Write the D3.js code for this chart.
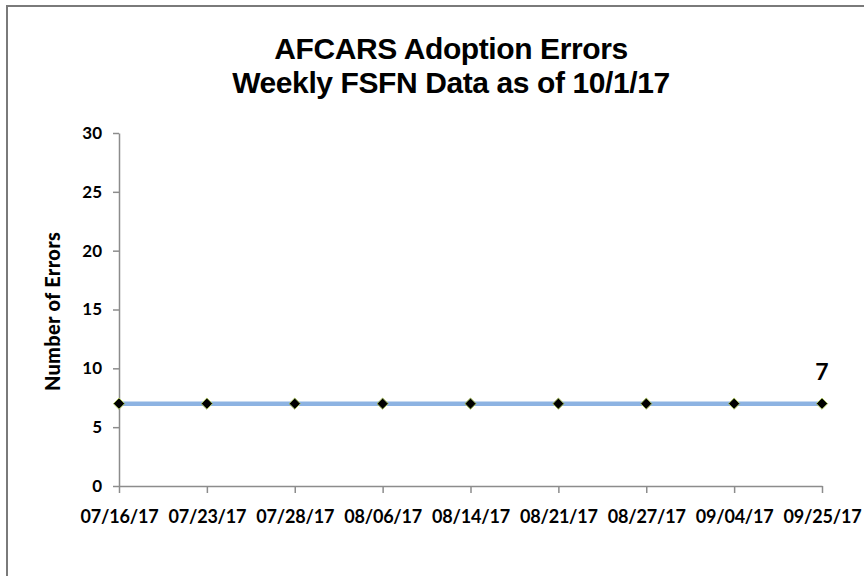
<!DOCTYPE html>
<html>
<head>
<meta charset="utf-8">
<script src="https://cdn.jsdelivr.net/npm/d3@7"></script>
<style>
  body { margin: 0; background: #fff; }
  svg { display: block; }
</style>
</head>
<body>
<div id="chart"></div>
<script>
// week labels along the x axis
var weeks = ["07/16/17", "07/23/17", "07/28/17", "08/06/17", "08/14/17", "08/21/17", "08/27/17", "09/04/17", "09/25/17"];
// number of errors each week
var errors = [7, 7, 7, 7, 7, 7, 7, 7, 7];
// y axis ticks
var yTicks = [0, 5, 10, 15, 20, 25, 30];

var titleLines = ["AFCARS Adoption Errors", "Weekly FSFN Data as of 10/1/17"];
var yTitle = "Number of Errors";

var width = 864, height = 576;
var margin = {top: 133, left: 119, right: 42, bottom: 90};

var svg = d3.select("#chart").append("svg")
    .attr("width", width)
    .attr("height", height);

// outer frame of the chart area (runs off the right and bottom edges)
svg.append("path")
    .attr("d", "M7,577 L7,6 L865,6")
    .attr("fill", "none")
    .attr("stroke", "#7a7a7a")
    .attr("stroke-width", 2);

// title
svg.append("g").selectAll("text")
    .data(titleLines)
    .enter().append("text")
    .attr("x", 451)
    .attr("y", function (d, i) { return 59 + i * 34; })
    .attr("text-anchor", "middle")
    .style("font-family", "'Liberation Sans', Arial, sans-serif")
    .style("font-weight", "bold")
    .style("font-size", "30px")
    .style("letter-spacing", "-0.4px")
    .attr("fill", "#000")
    .text(function (d) { return d; });

var x = d3.scalePoint()
    .domain(weeks)
    .range([margin.left, width - margin.right]);

var y = d3.scaleLinear()
    .domain([0, 30])
    .range([486, margin.top]);

var tickFont = "Lato, 'Open Sans', sans-serif";

// y axis
var gy = svg.append("g")
    .attr("transform", "translate(" + margin.left + ",0)")
    .call(d3.axisLeft(y).tickValues(yTicks).tickSizeInner(6).tickSizeOuter(0).tickPadding(11));
gy.select(".domain").attr("stroke", "#8c8c8c").attr("stroke-width", 1.5);
gy.selectAll(".tick line").attr("stroke", "#8c8c8c").attr("stroke-width", 1.5);
gy.selectAll(".tick text")
    .style("font-family", tickFont)
    .style("font-weight", "bold")
    .style("font-size", "17px")
    .attr("fill", "#000");

// x axis
var gx = svg.append("g")
    .attr("transform", "translate(0," + y(0) + ")")
    .call(d3.axisBottom(x).tickSizeInner(7).tickSizeOuter(0).tickPadding(17));
gx.select(".domain").attr("stroke", "#8c8c8c").attr("stroke-width", 1.5);
gx.selectAll(".tick line").attr("stroke", "#8c8c8c").attr("stroke-width", 1.5);
gx.selectAll(".tick text")
    .style("font-family", tickFont)
    .style("font-weight", "bold")
    .style("font-size", "18px")
    .style("letter-spacing", "-0.2px")
    .attr("fill", "#000");

// y axis title
svg.append("text")
    .attr("transform", "translate(60," + ((y(0) + y(30)) / 2 + 2) + ") rotate(-90)")
    .attr("text-anchor", "middle")
    .style("font-family", tickFont)
    .style("font-weight", "900")
    .style("font-size", "20px")
    .style("letter-spacing", "0.3px")
    .attr("fill", "#000")
    .text(yTitle);

var data = weeks.map(function (w, i) { return {week: w, value: errors[i]}; });

// the series line
var line = d3.line()
    .x(function (d) { return x(d.week); })
    .y(function (d) { return y(d.value); });

svg.append("path")
    .datum(data)
    .attr("fill", "none")
    .attr("stroke", "#8db3e2")
    .attr("stroke-width", 4.5)
    .attr("d", line);

// diamond markers
svg.append("g").selectAll("path")
    .data(data)
    .enter().append("path")
    .attr("transform", function (d) { return "translate(" + x(d.week) + "," + y(d.value) + ")"; })
    .attr("d", d3.symbol().type(d3.symbolDiamond2).size(80)())
    .attr("fill", "#000")
    .attr("stroke", "#a9c15e")
    .attr("stroke-width", 1);

// label on the last point
var last = data[data.length - 1];
svg.append("text")
    .attr("x", x(last.week))
    .attr("y", y(last.value) - 24)
    .attr("text-anchor", "middle")
    .style("font-family", tickFont)
    .style("font-weight", "bold")
    .style("font-size", "23px")
    .attr("fill", "#000")
    .text(last.value);
</script>
</body>
</html>
